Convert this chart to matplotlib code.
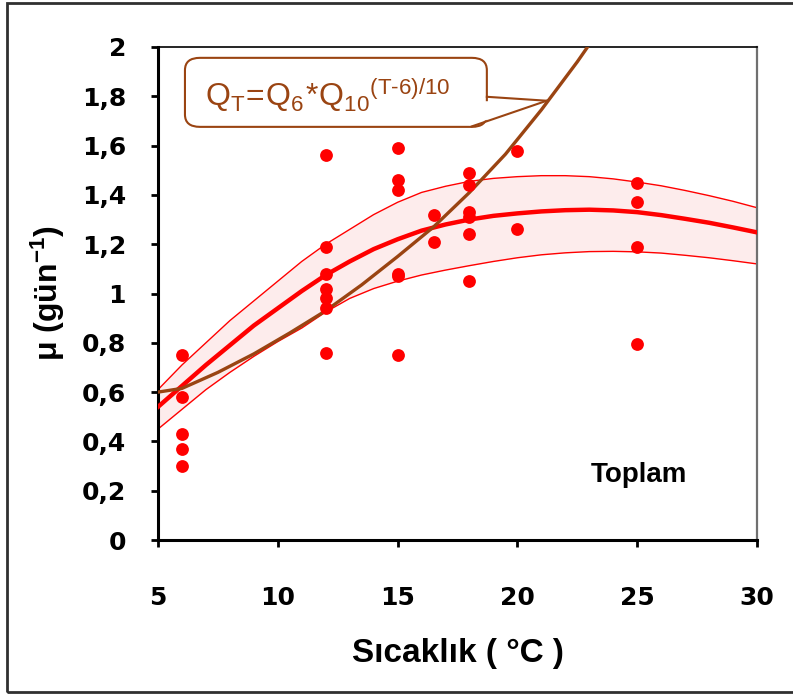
import matplotlib
matplotlib.use('Agg')
import matplotlib.pyplot as plt
from matplotlib.patches import FancyBboxPatch, Polygon, Rectangle

plt.rcParams['font.family'] = ['Liberation Sans', 'DejaVu Sans']
plt.rcParams['mathtext.fontset'] = 'custom'
plt.rcParams['mathtext.rm'] = 'Liberation Sans'
plt.rcParams['mathtext.default'] = 'regular'

# measured points
obs_t = [6, 6, 6, 6, 6,
         12, 12, 12, 12, 12, 12, 12,
         15, 15, 15, 15, 15, 15,
         16.5, 16.5,
         18, 18, 18, 18, 18, 18,
         20, 20,
         25, 25, 25, 25]
obs_mu = [0.75, 0.58, 0.43, 0.37, 0.30,
          1.56, 1.19, 1.08, 1.02, 0.98, 0.94, 0.76,
          1.59, 1.46, 1.42, 1.08, 1.07, 0.75,
          1.32, 1.21,
          1.49, 1.44, 1.33, 1.31, 1.24, 1.05,
          1.58, 1.26,
          1.45, 1.37, 1.19, 0.795]

# fitted curve with band
fit_t = [5, 6, 7, 8, 9, 10, 11, 12, 13, 14, 15, 16, 17, 18, 19, 20, 21, 22, 23, 24, 25, 26, 27, 28, 29, 30]
fit_mu = [0.54, 0.625, 0.71, 0.79, 0.87, 0.94, 1.01, 1.075, 1.13, 1.18, 1.22, 1.255, 1.28, 1.30, 1.315, 1.325,
          1.333, 1.338, 1.34, 1.337, 1.33, 1.318, 1.303, 1.287, 1.268, 1.248]
fit_hi = [0.61, 0.71, 0.80, 0.89, 0.97, 1.05, 1.13, 1.20, 1.26, 1.32, 1.37, 1.41, 1.435, 1.455, 1.467, 1.474,
          1.478, 1.478, 1.474, 1.465, 1.452, 1.437, 1.418, 1.397, 1.374, 1.348]
fit_lo = [0.45, 0.53, 0.61, 0.68, 0.745, 0.805, 0.86, 0.925, 0.98, 1.02, 1.05, 1.075, 1.095, 1.113, 1.13, 1.145,
          1.157, 1.165, 1.17, 1.171, 1.169, 1.164, 1.155, 1.145, 1.133, 1.12]

# Q10 curve
q10_t = [5, 6, 7.5, 9, 10.5, 12, 13.5, 15, 16.5, 18, 19.5, 21, 22.5, 23.5]
q10_mu = [0.60, 0.615, 0.68, 0.755, 0.84, 0.93, 1.035, 1.15, 1.27, 1.41, 1.565, 1.745, 1.94, 2.08]

yticks = [0, 0.2, 0.4, 0.6, 0.8, 1, 1.2, 1.4, 1.6, 1.8, 2]
ylabels = ['0', '0,2', '0,4', '0,6', '0,8', '1', '1,2', '1,4', '1,6', '1,8', '2']
xticks = [5, 10, 15, 20, 25, 30]

brown = '#9a4412'

fig = plt.figure(figsize=(7.93, 6.95), dpi=100)
ax = fig.add_axes([158/793, 155/695, 599/793, 493/695])

ax.fill_between(fit_t, fit_lo, fit_hi, color='#fdecec', lw=0, zorder=1)
ax.plot(fit_t, fit_hi, color='red', lw=1, zorder=2)
ax.plot(fit_t, fit_lo, color='red', lw=1, zorder=2)
ax.plot(fit_t, fit_mu, color='red', lw=3.2, zorder=3)
ax.plot(q10_t, q10_mu, color=brown, lw=2.4, zorder=4)
ax.scatter(obs_t, obs_mu, s=85, color='red', zorder=5, linewidths=0)

ax.set_xlim(5, 30)
ax.set_ylim(0, 2)
ax.set_xticks(xticks)
ax.set_xticklabels([str(v) for v in xticks])
ax.set_yticks(yticks)
ax.set_yticklabels(ylabels)
ax.tick_params(axis='y', direction='out', length=5, width=2, pad=18)
ax.tick_params(axis='x', direction='out', length=5, width=2, pad=28)
for lab in ax.get_xticklabels() + ax.get_yticklabels():
    lab.set_family('DejaVu Sans')
    lab.set_fontweight('bold')
    lab.set_fontsize(18)

ax.spines['left'].set_linewidth(2.2)
ax.spines['bottom'].set_linewidth(2.2)
ax.spines['top'].set_linewidth(1.2)
ax.spines['right'].set_linewidth(1.6)
ax.spines['right'].set_color('#707070')

ax.set_xlabel('Sıcaklık ( °C )', fontsize=24, fontweight='bold', labelpad=20)
ax.set_ylabel('μ (gün$^{-1}$)', fontsize=23, fontweight='bold', labelpad=11)

ax.text(0.803, 0.132, 'Toplam', transform=ax.transAxes, fontsize=20,
        fontweight='bold', ha='center', va='center')

# callout box
box = FancyBboxPatch((0.045, 0.838), 0.504, 0.140, transform=ax.transAxes,
                     boxstyle='round,pad=0,rounding_size=0.025',
                     fc='white', ec=brown, lw=1.5, zorder=6, clip_on=False)
ax.add_patch(box)
wedge = Polygon([(0.546, 0.89), (0.65, 0.891), (0.52, 0.841)], closed=True,
                transform=ax.transAxes, fc='white', ec='none', zorder=7)
ax.add_patch(wedge)
ax.plot([0.549, 0.649], [0.899, 0.891], transform=ax.transAxes, color=brown, lw=1.5, zorder=8)
ax.plot([0.524, 0.649], [0.839, 0.891], transform=ax.transAxes, color=brown, lw=1.5, zorder=8)
ax.text(0.078, 0.880, r'$Q_T\!=\!Q_6\!*\!Q_{10}{}^{(T\text{-}6)/10}$', transform=ax.transAxes,
        fontsize=23, color=brown, ha='left', va='baseline', zorder=9)

fig.patches.append(Rectangle((7/793, 3/695), 1.2, 689/695, transform=fig.transFigure,
                             fill=False, ec='#303030', lw=2))

fig.savefig('out.png', dpi=100)
